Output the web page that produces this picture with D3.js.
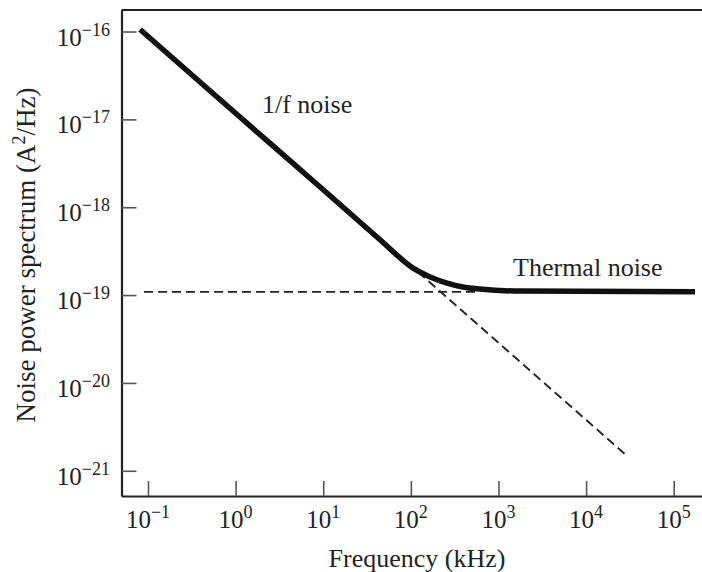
<!DOCTYPE html>
<html><head><meta charset="utf-8">
<script src="https://cdn.jsdelivr.net/npm/d3@7"></script>
<style>body{margin:0;background:#fff} svg{display:block}</style>
</head><body>
<script>
// Data
const curveFreq  = [0.0813, 1, 10, 44.5, 106, 166, 259, 394, 617, 1770, 175000];
const curvePower = [1.054e-16, 1.175e-17, 1.58e-18, 4.27e-19, 2.03e-19, 1.61e-19, 1.37e-19, 1.236e-19, 1.17e-19, 1.11e-19, 1.09e-19];
const thermalFreq  = [0.09, 617];
const thermalPower = [1.09e-19, 1.09e-19];
const flickerFreq  = [121, 28600];
const flickerPower = [1.83e-19, 1.51e-21];
const xTickExps = [-1, 0, 1, 2, 3, 4, 5];
const yTickExps = [-16, -17, -18, -19, -20, -21];
const annoText  = ["1/f noise", "Thermal noise"];
const annoFreq  = [2.0, 1468];
const annoPower = [1.18e-17, 1.65e-19];

const W = 702, H = 572;
const mLeft = 121.5, mRight = 702, mTop = 10, mBottom = 496;
const font = "'Liberation Serif', 'Times New Roman', serif";

const svg = d3.select("body").append("svg").attr("width", W).attr("height", H);

const x = d3.scaleLog().domain([Math.pow(10, -1.3025), Math.pow(10, 5.323)]).range([mLeft, mRight]);
const y = d3.scaleLog().domain([Math.pow(10, -21.287), Math.pow(10, -15.755)]).range([mBottom, mTop]);

// axes (ticks inward)
const xAxis = d3.axisBottom(x).tickValues(xTickExps.map(e => Math.pow(10, e))).tickSize(-15).tickSizeOuter(0).tickFormat("");
const yAxis = d3.axisLeft(y).tickValues(yTickExps.map(e => Math.pow(10, e))).tickSize(-15).tickSizeOuter(0).tickFormat("");

const gx = svg.append("g").attr("transform", `translate(0,${mBottom})`).call(xAxis);
const gy = svg.append("g").attr("transform", `translate(${mLeft},0)`).call(yAxis);
[gx, gy].forEach(g => {
  g.select(".domain").attr("stroke", "#222").attr("stroke-width", 2.2);
  g.selectAll(".tick line").attr("stroke", "#555").attr("stroke-width", 1.6);
});
// top frame line
svg.append("line").attr("x1", mLeft).attr("x2", W + 5).attr("y1", mTop).attr("y2", mTop)
  .attr("stroke", "#222").attr("stroke-width", 2.2);

// tick labels
function powLabel(sel, e) {
  sel.append("tspan").text("10");
  sel.append("tspan").attr("dy", -10).attr("font-size", 18).text(e < 0 ? "\u2212" + (-e) : String(e));
}
xTickExps.forEach(e => {
  const t = svg.append("text").attr("x", x(Math.pow(10, e))).attr("y", 528)
    .attr("text-anchor", "middle").attr("font-family", font).attr("font-size", 25).attr("fill", "#222");
  powLabel(t, e);
});
yTickExps.forEach(e => {
  const t = svg.append("text").attr("x", 110).attr("y", y(Math.pow(10, e)) + 14)
    .attr("text-anchor", "end").attr("font-family", font).attr("font-size", 25).attr("fill", "#222");
  powLabel(t, e);
});

// axis titles
svg.append("text").attr("x", 417).attr("y", 567).attr("text-anchor", "middle")
  .attr("font-family", font).attr("font-size", 26).attr("fill", "#222").text("Frequency (kHz)");
const yl = svg.append("text").attr("transform", "translate(35,255) rotate(-90)").attr("text-anchor", "middle")
  .attr("font-family", font).attr("font-size", 27).attr("fill", "#222");
yl.append("tspan").text("Noise power spectrum (A");
yl.append("tspan").attr("dy", -10).attr("font-size", 18).text("2");
yl.append("tspan").attr("dy", 10).text("/Hz)");

// dashed asymptotes
const line = d3.line().x(d => x(d[0])).y(d => y(d[1]));
svg.append("path").datum(d3.zip(thermalFreq, thermalPower)).attr("d", line)
  .attr("fill", "none").attr("stroke", "#222").attr("stroke-width", 1.7).attr("stroke-dasharray", "9,5");
svg.append("path").datum(d3.zip(flickerFreq, flickerPower)).attr("d", line)
  .attr("fill", "none").attr("stroke", "#222").attr("stroke-width", 1.8).attr("stroke-dasharray", "9,5");

// main curve
const curveLine = d3.line().x(d => x(d[0])).y(d => y(d[1])).curve(d3.curveMonotoneX);
svg.append("path").datum(d3.zip(curveFreq, curvePower)).attr("d", curveLine)
  .attr("fill", "none").attr("stroke", "#111").attr("stroke-width", 5.5).attr("stroke-linecap", "butt");

// annotations
annoText.forEach((t, i) => {
  svg.append("text").attr("x", x(annoFreq[i])).attr("y", y(annoPower[i]))
    .attr("font-family", font).attr("font-size", 26).attr("fill", "#222").text(t);
});
</script>
</body></html>
